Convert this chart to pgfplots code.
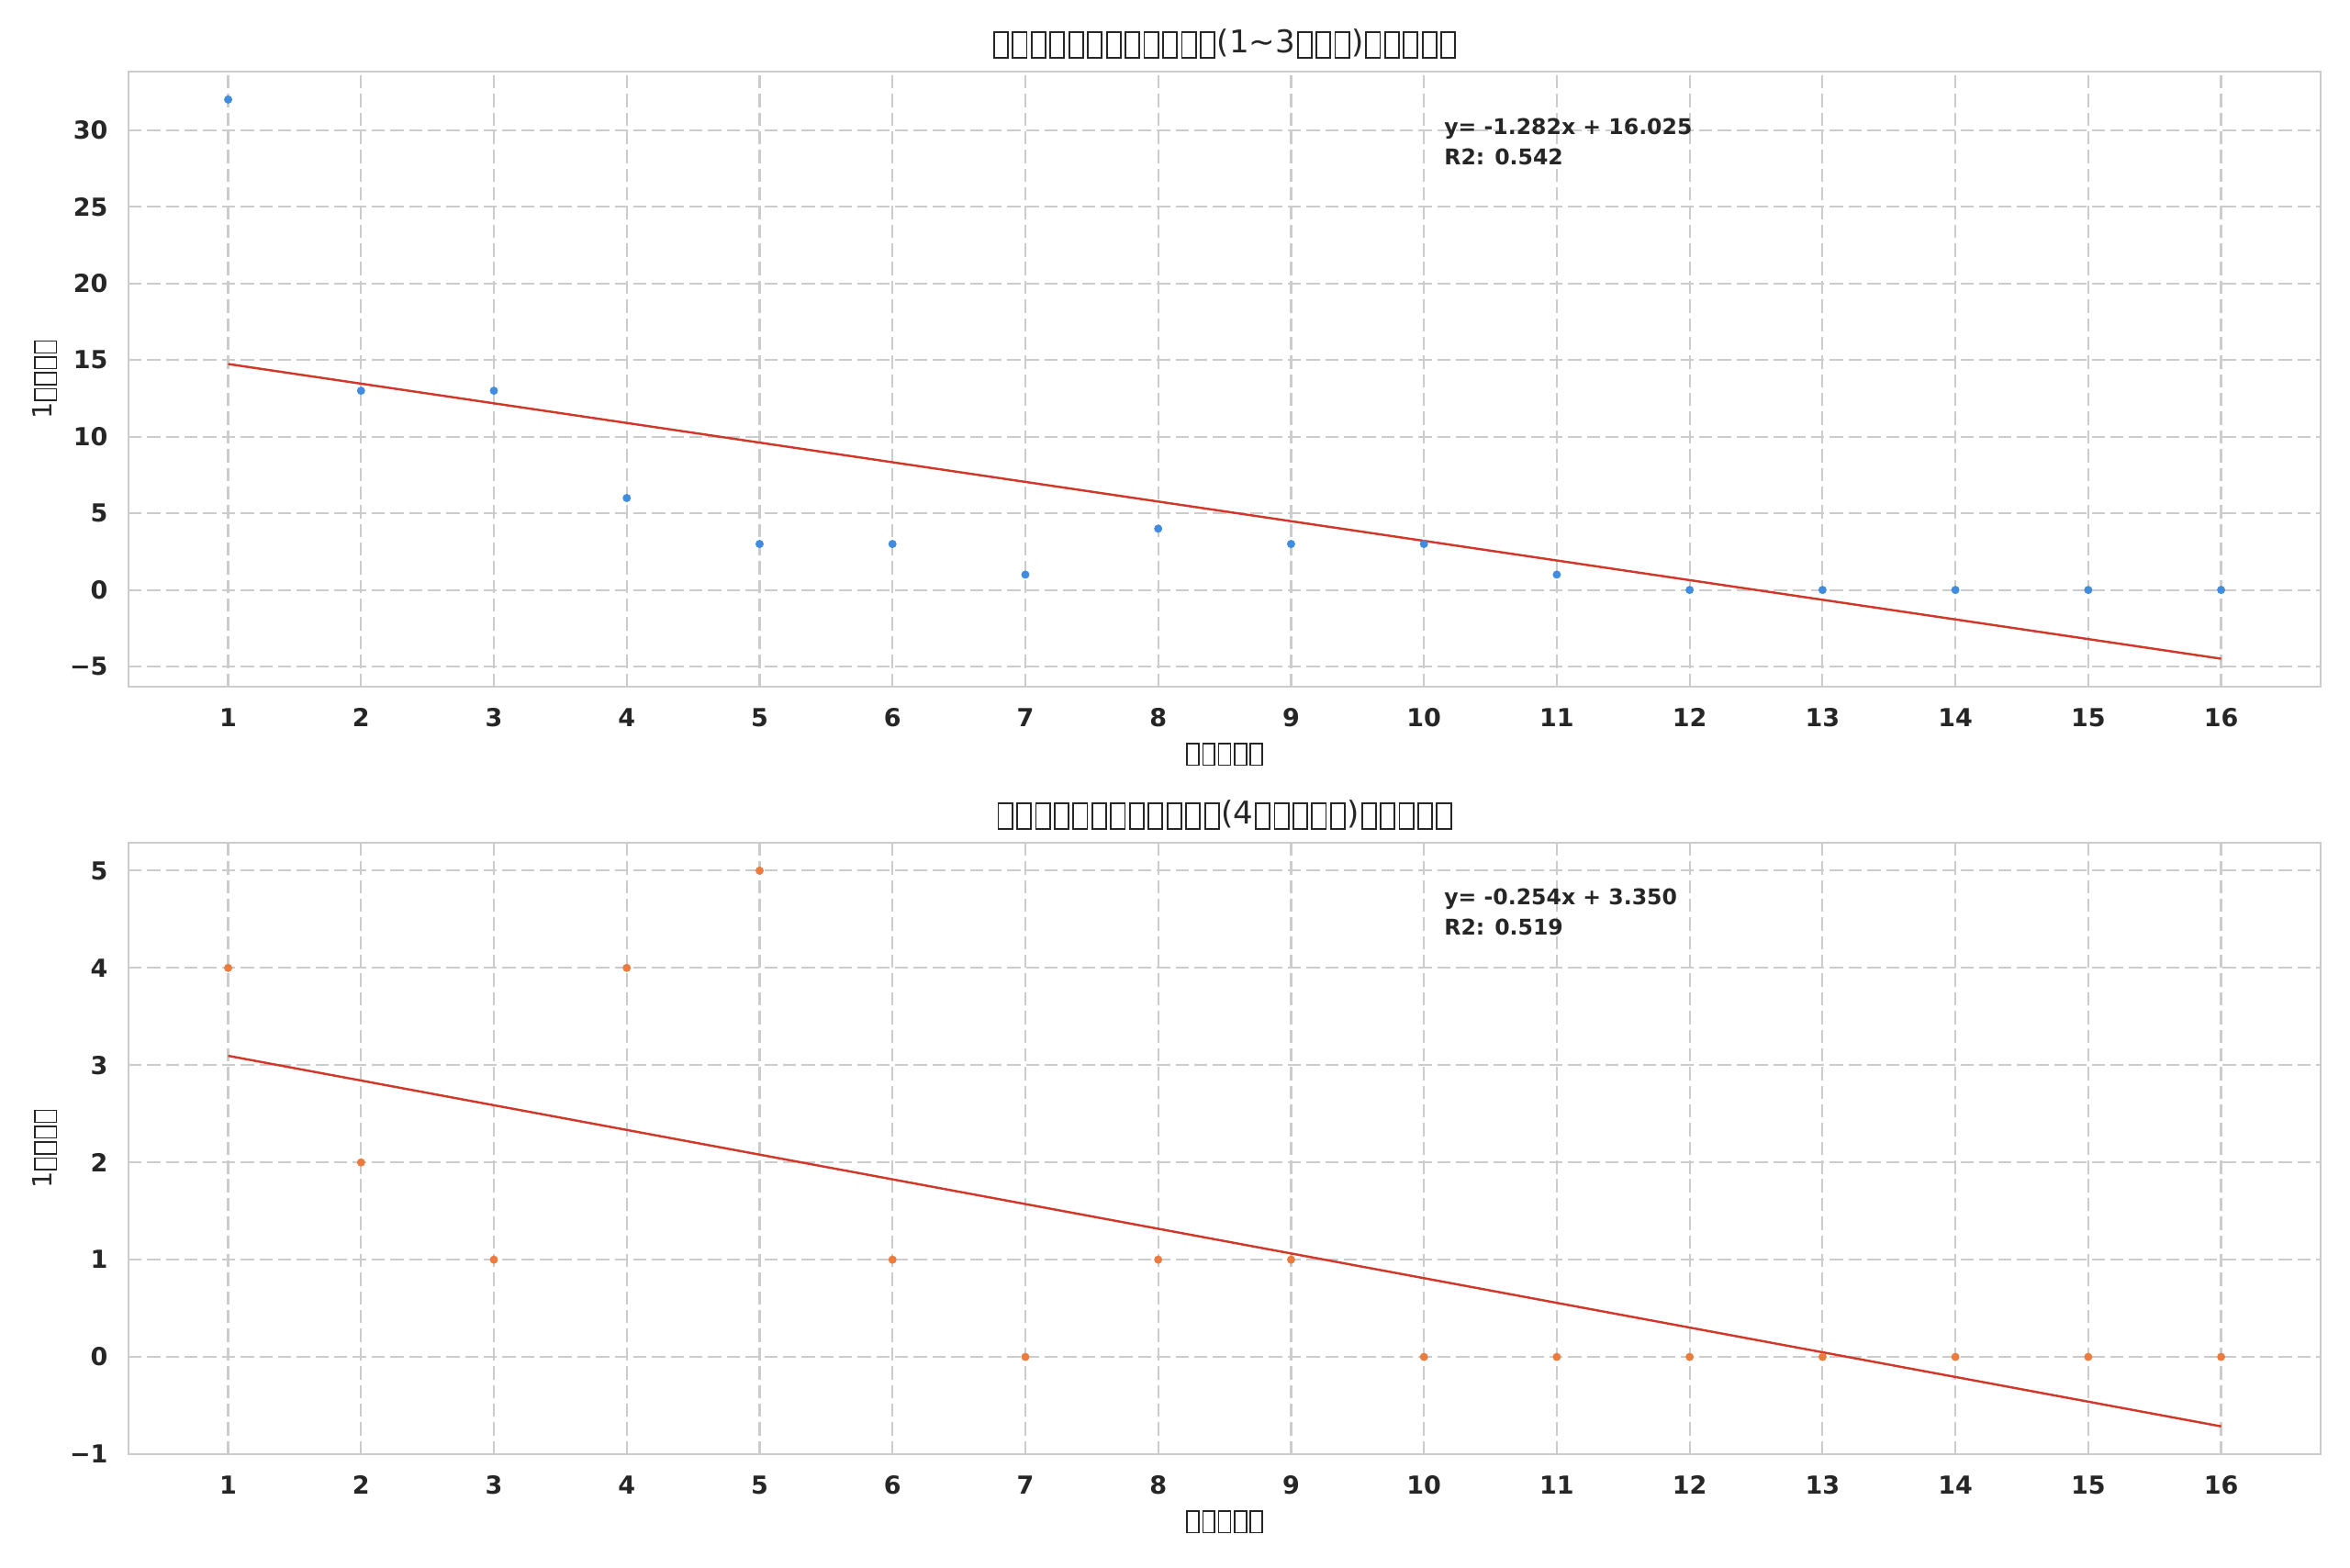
\documentclass[border=0pt]{standalone}
\usepackage{fontspec}
\setmainfont{DejaVu Sans}
\usepackage{pgfplots}
\pgfplotsset{compat=1.18}
\definecolor{blueC}{HTML}{3F8CE0}
\definecolor{orangeC}{HTML}{EC7C3D}
\definecolor{redC}{HTML}{D2382A}
\definecolor{gridC}{HTML}{CCCCCC}
\definecolor{textC}{HTML}{262626}
\newcommand\tofu{{\setlength\fboxsep{0pt}\setlength\fboxrule{0.055em}\kern0.05em\raisebox{-0.14em}{\fbox{\rule{0pt}{0.77em}\rule{0.39em}{0pt}}}\kern0.05em}}
\tikzset{annot/.style={anchor=north west, inner sep=0pt, align=left, font=\fontsize{10.65}{14.9}\selectfont\bfseries, text=textC}}
\pgfplotsset{
 mystyle/.style={
  scale only axis, width=1078.7pt,
  xmin=0.25, xmax=16.75,
  xtick={1,2,3,4,5,6,7,8,9,10,11,12,13,14,15,16},
  xticklabels={1,2,3,4,5,6,7,8,9,10,11,12,13,14,15,16},
  grid=major,
  major grid style={draw=gridC, line width=1pt, dash pattern=on 6.5pt off 2.7pt},
  axis line style={draw=gridC, line width=1pt},
  major tick length=0pt,
  tick style={draw=none},
  ticklabel style={font=\fontsize{12.2}{14}\selectfont\bfseries, text=textC},
  xticklabel style={anchor=north, inner sep=0pt, yshift=-10.4pt},
  yticklabel style={anchor=east, inner sep=0pt, xshift=-10pt},
  every axis title/.style={at={([yshift=13.7pt]axis description cs:0.5,1)}, anchor=center, font=\fontsize{15.4}{18}\selectfont, text=textC, inner sep=0pt},
  label style={font=\fontsize{13}{15}\selectfont, text=textC, inner sep=0pt},
  xlabel style={at={([yshift=-33.3pt]axis description cs:0.5,0)}, anchor=center},
  ylabel style={at={([xshift=-41.1pt]axis description cs:0,0.5)}, anchor=center},
 },
}
\begin{document}
\begin{tikzpicture}
\useasboundingbox (0,0) rectangle (1156.35pt,771.06pt);
\begin{axis}[mystyle,
  at={(63.24pt,433.2pt)}, anchor=south west,
  height=302.6pt,
  ymin=-6.31, ymax=33.82,
  ytick={-5,0,5,10,15,20,25,30},
  yticklabels={−5,0,5,10,15,20,25,30},
  title={\tofu\tofu\tofu\tofu\tofu\tofu\tofu\tofu\tofu\tofu\tofu\tofu(1\char`\~3\tofu\tofu\tofu)\tofu\tofu\tofu\tofu\tofu},
  xlabel={\tofu\tofu\tofu\tofu\tofu},
  ylabel={1\tofu\tofu\tofu\tofu},
]
\addplot[only marks, mark=*, mark size=1.8pt, color=blueC] coordinates {
(1,32) (2,13) (3,13) (4,6) (5,3) (6,3) (7,1) (8,4) (9,3) (10,3) (11,1) (12,0) (13,0) (14,0) (15,0) (16,0)};
\addplot[redC, line width=1.1pt] coordinates {(1,14.743) (16,-4.487)};
\node[annot] at (rel axis cs:0.6,0.925) {y= -1.282x + 16.025\\R2: 0.542};
\end{axis}
\begin{axis}[mystyle,
  at={(63.24pt,55.56pt)}, anchor=south west,
  height=300.8pt,
  ymin=-1, ymax=5.286,
  ytick={-1,0,1,2,3,4,5},
  yticklabels={−1,0,1,2,3,4,5},
  title={\tofu\tofu\tofu\tofu\tofu\tofu\tofu\tofu\tofu\tofu\tofu\tofu(4\tofu\tofu\tofu\tofu\tofu)\tofu\tofu\tofu\tofu\tofu},
  xlabel={\tofu\tofu\tofu\tofu\tofu},
  ylabel={1\tofu\tofu\tofu\tofu},
]
\addplot[only marks, mark=*, mark size=1.8pt, color=orangeC] coordinates {
(1,4) (2,2) (3,1) (4,4) (5,5) (6,1) (7,0) (8,1) (9,1) (10,0) (11,0) (12,0) (13,0) (14,0) (15,0) (16,0)};
\addplot[redC, line width=1.1pt] coordinates {(1,3.096) (16,-0.714)};
\node[annot] at (rel axis cs:0.6,0.925) {y= -0.254x + 3.350\\R2: 0.519};
\end{axis}
\end{tikzpicture}
\end{document}
